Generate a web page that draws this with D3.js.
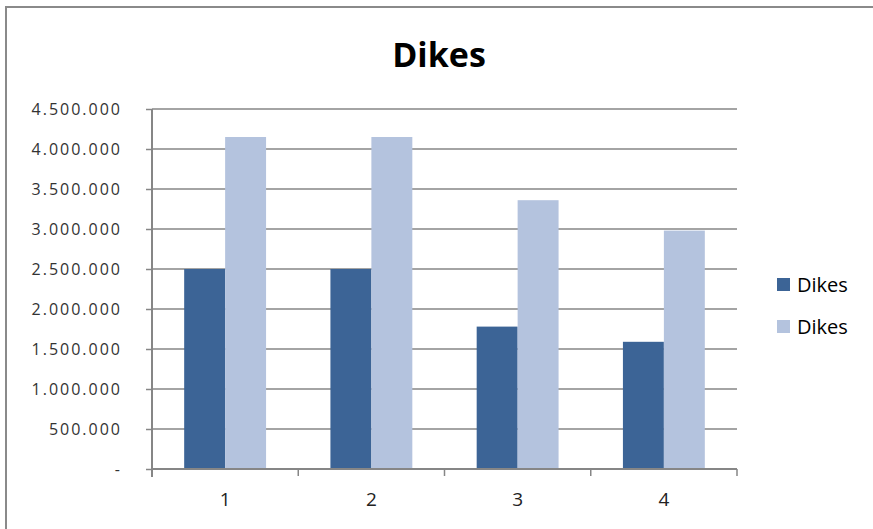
<!DOCTYPE html>
<html>
<head>
<meta charset="utf-8">
<script src="https://cdn.jsdelivr.net/npm/d3@7"></script>
<style>
  html, body { margin: 0; padding: 0; background: #fff; }
  svg { display: block; }
</style>
</head>
<body>
<svg id="chart" width="873" height="529"></svg>
<script>
// Chart data
const categories = ["1", "2", "3", "4"];
const seriesNames = ["Dikes", "Dikes"];
const seriesA = [2500000, 2500000, 1780000, 1590000];
const seriesB = [4150000, 4150000, 3360000, 2980000];
const yTicks = [0, 500000, 1000000, 1500000, 2000000, 2500000, 3000000, 3500000, 4000000, 4500000];
const colors = ["#3c6496", "#b4c3de"];
const title = "Dikes";

const svg = d3.select("#chart");
const font = "'Open Sans', 'DejaVu Sans', sans-serif";

// Outer frame (right/bottom edges fall outside the view)
svg.append("rect")
  .attr("x", 6).attr("y", 7)
  .attr("width", 900).attr("height", 600)
  .attr("fill", "none")
  .attr("stroke", "#8a8a8a")
  .attr("stroke-width", 2);

const plot = { left: 152, right: 737, top: 109, bottom: 469 };

const x = d3.scaleBand()
  .domain(categories)
  .range([plot.left, plot.right])
  .paddingInner(0).paddingOuter(0);

const y = d3.scaleLinear()
  .domain([0, 4500000])
  .range([plot.bottom, plot.top]);

const fmt = v => v === 0 ? "-" : d3.format(",")(v).replace(/,/g, ".");

// Gridlines
svg.append("g")
  .selectAll("line")
  .data(yTicks.filter(d => d > 0))
  .join("line")
  .attr("x1", plot.left).attr("x2", plot.right)
  .attr("y1", d => y(d)).attr("y2", d => y(d))
  .attr("stroke", "#868686")
  .attr("stroke-width", 1.5);

// Bars
const groupW = x.bandwidth() * 0.56;
const sub = d3.scaleBand().domain([0, 1]).range([0, groupW]);
const series = [seriesA, seriesB];

series.forEach((vals, si) => {
  svg.append("g")
    .selectAll("rect")
    .data(vals)
    .join("rect")
    .attr("x", (d, i) => x(categories[i]) + (x.bandwidth() - groupW) / 2 + sub(si))
    .attr("y", d => y(d))
    .attr("width", sub.bandwidth())
    .attr("height", d => y(0) - y(d))
    .attr("fill", colors[si]);
});

// Y axis
const yAxis = svg.append("g")
  .attr("transform", `translate(${plot.left},0)`)
  .call(d3.axisLeft(y).tickValues(yTicks).tickFormat(fmt).tickSize(6).tickPadding(24));
yAxis.select(".domain").attr("stroke", "#868686").attr("stroke-width", 2)
  .attr("d", `M0,${plot.top}V${plot.bottom + 8}`);
yAxis.selectAll(".tick line").attr("stroke", "#868686").attr("stroke-width", 1.5);
yAxis.selectAll(".tick text")
  .attr("fill", "#333")
  .style("font-family", font)
  .style("font-size", "16px")
  .style("letter-spacing", "2px");

// X axis
const xAxis = svg.append("g")
  .attr("transform", `translate(0,${plot.bottom})`)
  .call(d3.axisBottom(x).tickSize(0).tickPadding(24));
xAxis.select(".domain").attr("stroke", "#868686").attr("stroke-width", 2)
  .attr("d", `M${plot.left},0H${plot.right}`);
xAxis.selectAll(".tick text")
  .attr("fill", "#222")
  .style("font-family", font)
  .style("font-size", "19px");
// Category boundary ticks
svg.append("g")
  .selectAll("line")
  .data(categories)
  .join("line")
  .attr("x1", (d, i) => plot.left + x.bandwidth() * (i + 1))
  .attr("x2", (d, i) => plot.left + x.bandwidth() * (i + 1))
  .attr("y1", plot.bottom).attr("y2", plot.bottom + 7)
  .attr("stroke", "#868686").attr("stroke-width", 1.5);

// Title
svg.append("text")
  .attr("x", 439).attr("y", 67)
  .attr("text-anchor", "middle")
  .style("font-family", font)
  .style("font-weight", "bold")
  .style("font-size", "34px")
  .attr("fill", "#000")
  .text(title);

// Legend
const legend = svg.append("g").attr("transform", "translate(777,278)");
seriesNames.forEach((name, i) => {
  const g = legend.append("g").attr("transform", `translate(0,${i * 42})`);
  g.append("rect").attr("width", 13).attr("height", 13).attr("fill", colors[i]);
  g.append("text")
    .attr("x", 20).attr("y", 14)
    .style("font-family", font)
    .style("font-size", "20px")
    .attr("fill", "#000")
    .text(name);
});
</script>
</body>
</html>
